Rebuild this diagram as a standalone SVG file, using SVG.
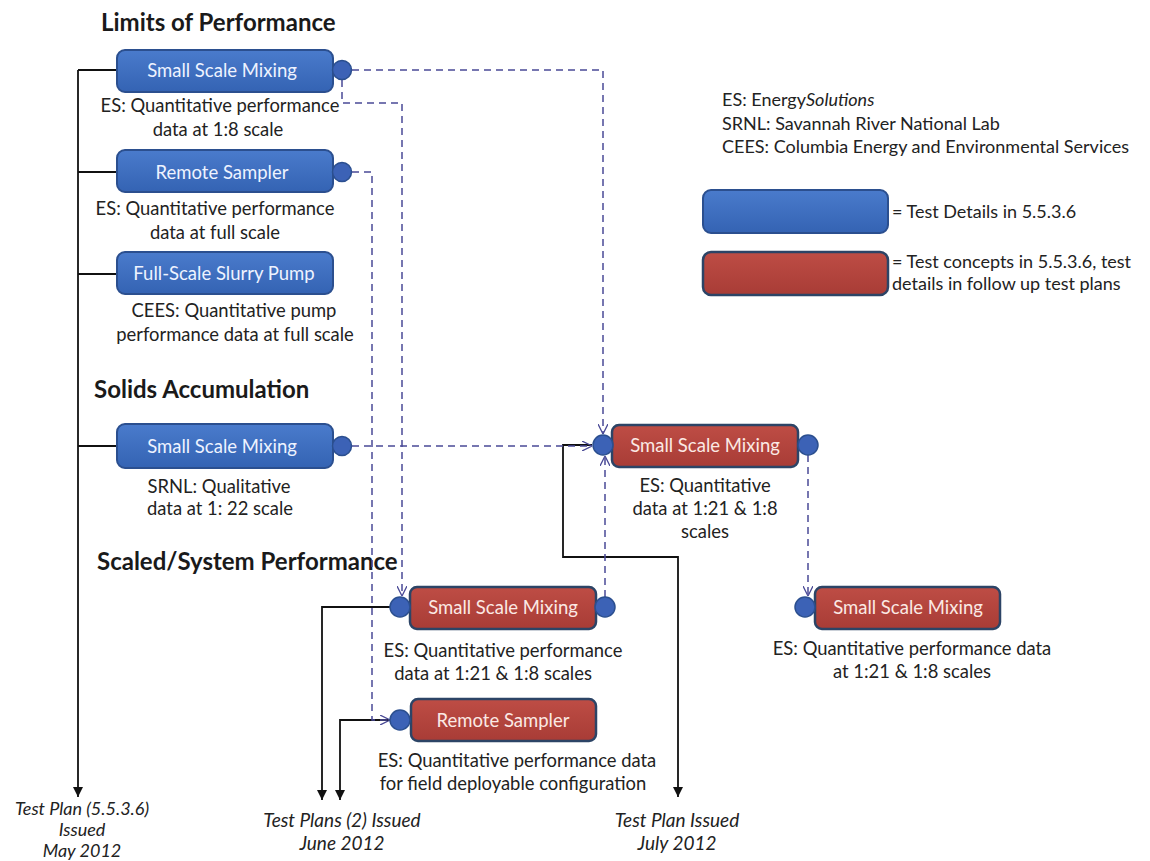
<svg xmlns="http://www.w3.org/2000/svg" width="1150" height="861" viewBox="0 0 1150 861">
<defs>
<linearGradient id="gb" x1="0" y1="0" x2="0" y2="1"><stop offset="0" stop-color="#4a7bcc"/><stop offset="1" stop-color="#3463b3"/></linearGradient>
<linearGradient id="gr" x1="0" y1="0" x2="0" y2="1"><stop offset="0" stop-color="#be4d45"/><stop offset="1" stop-color="#a83c36"/></linearGradient>
<marker id="open" viewBox="0 0 10 10" refX="10" refY="5" markerWidth="10" markerHeight="10" markerUnits="userSpaceOnUse" orient="auto"><path d="M0,0 L10,5 L0,10" fill="none" stroke="#4a4a96" stroke-width="1.3"/></marker>
<marker id="solid" viewBox="0 0 10 10" refX="10" refY="5" markerWidth="10" markerHeight="10" markerUnits="userSpaceOnUse" orient="auto"><path d="M0,0 L10,5 L0,10 z" fill="#111"/></marker>
<style>
.title{font-family:Lato,"Liberation Sans",sans-serif;font-weight:bold;font-size:24px;fill:#1a1a1a;}
.desc{font-family:Lato,"Liberation Sans",sans-serif;font-size:18.4px;fill:#222;text-anchor:middle;}
.lbl{font-family:Lato,"Liberation Sans",sans-serif;font-size:18.5px;fill:#eef3ff;text-anchor:middle;}
.rlbl{font-family:Lato,"Liberation Sans",sans-serif;font-size:18.5px;fill:#fbe9e4;text-anchor:middle;}
.leg{font-family:Lato,"Liberation Sans",sans-serif;font-size:18px;fill:#222;}
.it{font-family:Lato,"Liberation Sans",sans-serif;font-size:19px;font-style:italic;fill:#222;text-anchor:middle;}
.it2{font-family:Lato,"Liberation Sans",sans-serif;font-size:18px;font-style:italic;fill:#222;text-anchor:middle;}
.bn{fill:url(#gb);stroke:#2b4f8f;stroke-width:2;}
.rn{fill:url(#gr);stroke:#2c4466;stroke-width:2.5;}
.cir{fill:#3c62b6;stroke:#2b4f8f;stroke-width:1.5;}
.solidl{fill:none;stroke:#111;stroke-width:1.8;}
.dash{fill:none;stroke:#4a4a96;stroke-width:1.5;stroke-dasharray:7,5;}
</style>
</defs>
<rect width="1150" height="861" fill="#ffffff"/>

<text class="title" x="101" y="31">Limits of Performance</text>
<text class="title" x="94" y="398">Solids Accumulation</text>
<text class="title" x="97" y="570">Scaled/System Performance</text>

<g id="connectors">
<path class="solidl" d="M78,70 V797" marker-end="url(#solid)"/>
<path class="solidl" d="M78,70 H117 M78,172 H117 M78,274 H117 M78,446 H117"/>
<path class="solidl" d="M390,607 H322 V800" marker-end="url(#solid)"/>
<path class="solidl" d="M390,720 H340 V800" marker-end="url(#solid)"/>
<path class="solidl" d="M592,445 H563 V557 H678 V797" marker-end="url(#solid)"/>
<path class="dash" d="M352,70 H603 V434" marker-end="url(#open)"/>
<path class="dash" d="M342,80 V103 H402 V596" marker-end="url(#open)"/>
<path class="dash" d="M352,172 H372 V720 H390" marker-end="url(#open)"/>
<path class="dash" d="M352,446 H592" marker-end="url(#open)"/>
<path class="dash" d="M605,597 V456" marker-end="url(#open)"/>
<path class="dash" d="M808,455 V596" marker-end="url(#open)"/>
</g>

<g id="n1"><rect class="bn" x="117" y="50" width="216" height="42" rx="8"/><circle class="cir" cx="342" cy="70" r="9.5"/><text class="lbl" x="222" y="77">Small Scale Mixing</text>
<text class="desc" x="220" y="112">ES: Quantitative performance</text><text class="desc" x="218" y="136">data at 1:8 scale</text></g>

<g id="n2"><rect class="bn" x="117" y="150" width="216" height="42" rx="8"/><circle class="cir" cx="342" cy="172" r="9.5"/><text class="lbl" x="222" y="179">Remote Sampler</text>
<text class="desc" x="215" y="215">ES: Quantitative performance</text><text class="desc" x="215" y="239">data at full scale</text></g>

<g id="n3"><rect class="bn" x="117" y="252" width="216" height="42" rx="8"/><text class="lbl" x="224" y="280">Full-Scale Slurry Pump</text>
<text class="desc" x="234" y="317">CEES: Quantitative pump</text><text class="desc" x="235" y="341">performance data at full scale</text></g>

<g id="n4"><rect class="bn" x="117" y="424" width="216" height="44" rx="8"/><circle class="cir" cx="342" cy="446" r="9.5"/><text class="lbl" x="222" y="453">Small Scale Mixing</text>
<text class="desc" x="219" y="493">SRNL: Qualitative</text><text class="desc" x="220" y="515">data at 1: 22 scale</text></g>

<g id="n5"><rect class="rn" x="612" y="425" width="186" height="42" rx="7"/><circle class="cir" cx="603" cy="445" r="10"/><circle class="cir" cx="808" cy="445" r="10"/><text class="rlbl" x="705" y="452">Small Scale Mixing</text>
<text class="desc" x="705" y="492">ES: Quantitative</text><text class="desc" x="705" y="515">data at 1:21 &amp; 1:8</text><text class="desc" x="705" y="538">scales</text></g>

<g id="n6"><rect class="rn" x="410" y="587" width="186" height="42" rx="7"/><circle class="cir" cx="400" cy="607" r="10"/><circle class="cir" cx="605" cy="607" r="10"/><text class="rlbl" x="503" y="614">Small Scale Mixing</text>
<text class="desc" x="503" y="657">ES: Quantitative performance</text><text class="desc" x="493" y="680">data at 1:21 &amp; 1:8 scales</text></g>

<g id="n7"><rect class="rn" x="411" y="699" width="185" height="42" rx="7"/><circle class="cir" cx="400" cy="720" r="10"/><text class="rlbl" x="503" y="727">Remote Sampler</text>
<text class="desc" x="517" y="767">ES: Quantitative performance data</text><text class="desc" x="513" y="790">for field deployable configuration</text></g>

<g id="n8"><rect class="rn" x="815" y="587" width="185" height="42" rx="7"/><circle class="cir" cx="805" cy="607" r="10"/><text class="rlbl" x="908" y="614">Small Scale Mixing</text>
<text class="desc" x="912" y="655">ES: Quantitative performance data</text><text class="desc" x="912" y="678">at 1:21 &amp; 1:8 scales</text></g>

<g id="milestones">
<text class="it2" x="82" y="815">Test Plan (5.5.3.6)</text><text class="it2" x="82" y="836">Issued</text><text class="it2" x="82" y="857">May  2012</text>
<text class="it" x="342" y="827">Test Plans (2) Issued</text><text class="it" x="342" y="850">June 2012</text>
<text class="it" x="677" y="827">Test Plan Issued</text><text class="it" x="677" y="850">July 2012</text>
</g>

<g id="legend">
<text class="leg" x="722" y="106">ES: Energy<tspan font-style="italic">Solutions</tspan></text>
<text class="leg" x="722" y="130">SRNL: Savannah River National Lab</text>
<text class="leg" x="722" y="153">CEES: Columbia Energy and Environmental Services</text>
<rect class="bn" x="703" y="190" width="185" height="43" rx="8"/>
<text class="leg" x="892" y="218">= Test Details in 5.5.3.6</text>
<rect class="rn" x="703" y="252" width="185" height="43" rx="8"/>
<text class="leg" x="892" y="268">= Test concepts in 5.5.3.6, test</text>
<text class="leg" x="892" y="290">details in follow up test plans</text>
</g>
</svg>
